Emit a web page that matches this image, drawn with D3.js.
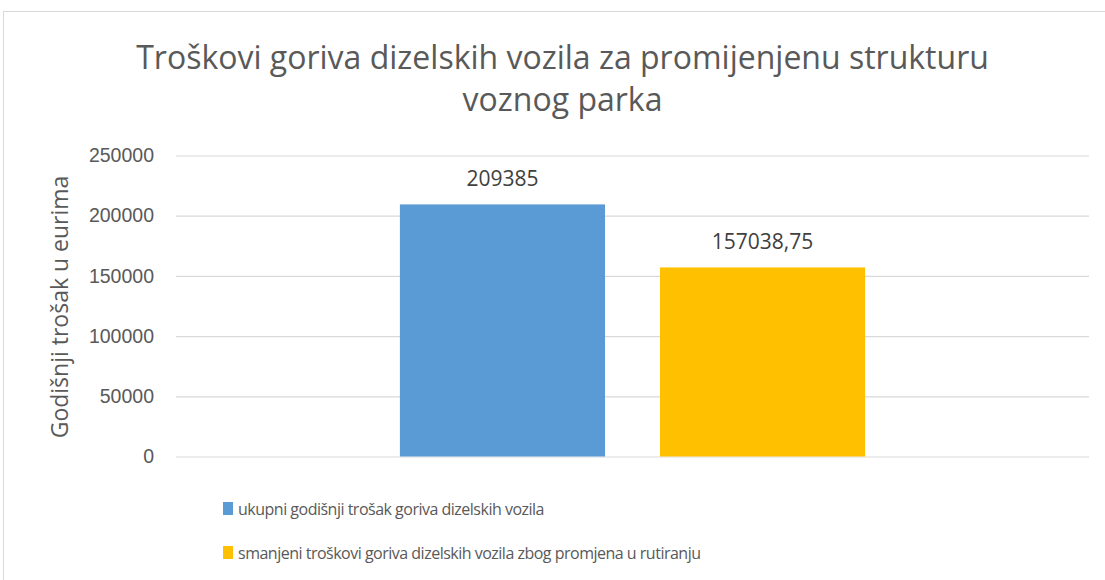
<!DOCTYPE html>
<html>
<head>
<meta charset="utf-8">
<script src="https://cdn.jsdelivr.net/npm/d3@7"></script>
<style>
  html, body { margin: 0; padding: 0; background: #fff; }
  svg { display: block; font-family: "Open Sans", "Noto Sans", sans-serif; }
</style>
</head>
<body>
<svg id="chart" width="1105" height="580"></svg>
<script>
// ---- data ----
const titleLines = ["Troškovi goriva dizelskih vozila za promijenjenu strukturu", "voznog parka"];
const yAxisTitle = "Godišnji trošak u eurima";
const categories = [""];
const seriesNames = [
  "ukupni godišnji trošak goriva dizelskih vozila",
  "smanjeni troškovi goriva dizelskih vozila zbog promjena u rutiranju"
];
const seriesValues = [209385, 157038.75];
const valueLabels = ["209385", "157038,75"];
const seriesColors = ["#5B9BD5", "#FFC000"];
const yTicks = [0, 50000, 100000, 150000, 200000, 250000];

// ---- layout ----
const W = 1105, H = 580;
const plot = { left: 176, right: 1089, top: 155.5, bottom: 456.5 };
const textColor = "#595959";
const gridColor = "#D9D9D9";

const svg = d3.select("#chart");

// chart border
svg.append("rect")
  .attr("x", 3.5).attr("y", 11.5)
  .attr("width", W).attr("height", H)
  .attr("fill", "#fff").attr("stroke", gridColor).attr("stroke-width", 1);

// scales
const y = d3.scaleLinear().domain([0, 250000]).range([plot.bottom, plot.top]);
const x0 = d3.scaleBand().domain(categories).range([plot.left, plot.right])
  .paddingInner(0.3249).paddingOuter(0.3249);
const x1 = d3.scaleBand().domain(seriesNames).range([0, x0.bandwidth()])
  .paddingInner(0.2115).paddingOuter(0);

// gridlines
const yAxis = d3.axisLeft(y).tickValues(yTicks).tickSize(-(plot.right - plot.left)).tickPadding(22)
  .tickFormat(d3.format("d"));
const gAxis = svg.append("g").attr("transform", `translate(${plot.left},0)`).call(yAxis);
gAxis.select(".domain").remove();
gAxis.selectAll(".tick line").attr("stroke", gridColor).attr("stroke-width", 1.2);
gAxis.selectAll(".tick text").attr("fill", textColor).attr("font-size", 19.5);

// bars
const data = seriesNames.map((s, i) => ({ s, v: seriesValues[i], label: valueLabels[i], color: seriesColors[i] }));
const g = svg.append("g").attr("transform", `translate(${x0(categories[0])},0)`);
g.selectAll("rect.bar").data(data).enter().append("rect")
  .attr("class", "bar")
  .attr("x", d => x1(d.s))
  .attr("width", x1.bandwidth())
  .attr("y", d => y(d.v))
  .attr("height", d => y(0) - y(d.v))
  .attr("fill", d => d.color);

g.selectAll("text.vlabel").data(data).enter().append("text")
  .attr("class", "vlabel")
  .attr("x", d => x1(d.s) + x1.bandwidth() / 2)
  .attr("y", d => y(d.v) - 18)
  .attr("text-anchor", "middle")
  .attr("fill", "#404040")
  .attr("font-size", 21)
  .text(d => d.label);

// title
svg.append("g").selectAll("text").data(titleLines).enter().append("text")
  .attr("x", 562.5)
  .attr("y", (d, i) => 69 + i * 42)
  .attr("text-anchor", "middle")
  .attr("fill", textColor)
  .attr("font-size", 32)
  .text(d => d);

// y axis title
svg.append("text")
  .attr("transform", `translate(68,${307}) rotate(-90)`)
  .attr("text-anchor", "middle")
  .attr("fill", textColor)
  .attr("font-size", 23)
  .text(yAxisTitle);

// legend
const leg = svg.append("g");
const items = leg.selectAll("g").data(data).enter().append("g")
  .attr("transform", (d, i) => `translate(223,${502 + i * 44})`);
items.append("rect").attr("width", 10).attr("height", 13).attr("fill", d => d.color);
items.append("text").attr("x", 15).attr("y", 12.5)
  .attr("fill", textColor).attr("font-size", 16).attr("letter-spacing", -0.5)
  .text(d => d.s);
</script>
</body>
</html>
